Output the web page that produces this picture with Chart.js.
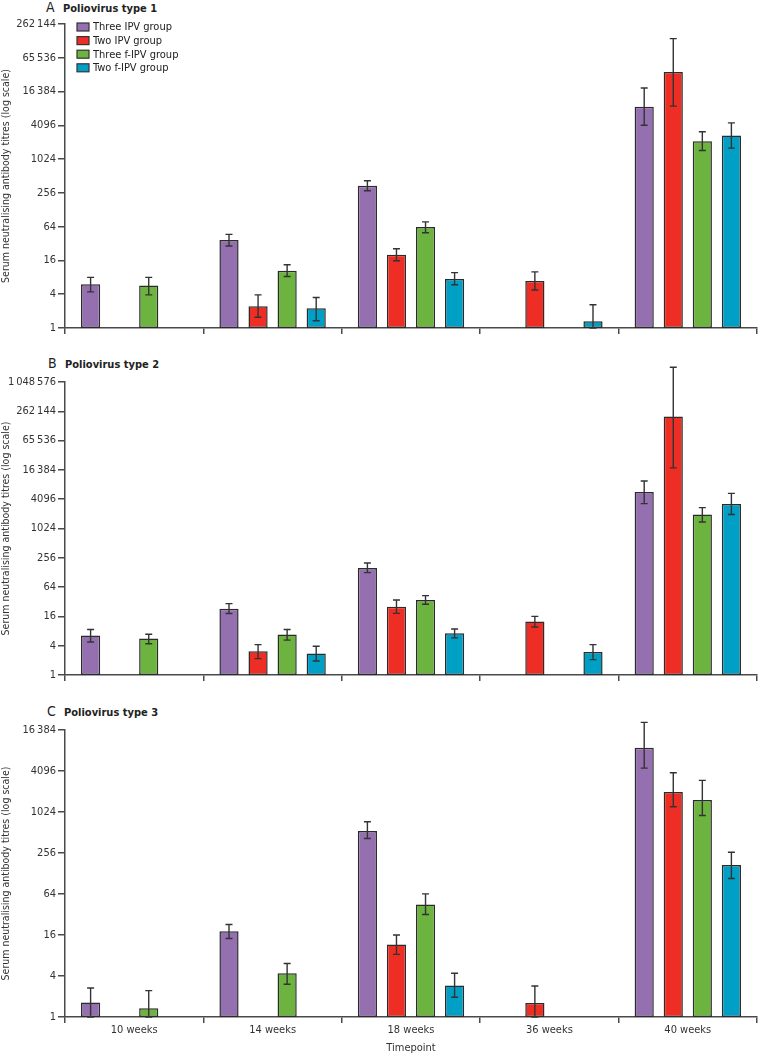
<!DOCTYPE html>
<html>
<head>
<meta charset="utf-8">
<script src="https://cdn.jsdelivr.net/npm/chart.js@4.4.1/dist/chart.umd.min.js"></script>
<style>
  body { margin: 0; background: #fff; width: 758px; height: 1055px; position: relative; overflow: hidden;
         font-family: 'Liberation Sans Narrow', 'DejaVu Sans Condensed', 'Liberation Sans', sans-serif; }
  canvas { position: absolute; left: 0; }
  .panel-title { position: absolute; color: #222; font-size: 11px; font-weight: bold; white-space: nowrap; }
  .panel-title span { font-size: 14px; font-weight: normal; display: inline-block; width: 17px; }
</style>
</head>
<body>
<div class="panel-title" style="left:46px; top:-1px;"><span>A</span>Poliovirus type 1</div>
<div class="panel-title" style="left:48px; top:355px;"><span>B</span>Poliovirus type 2</div>
<div class="panel-title" style="left:47px; top:703px;"><span>C</span>Poliovirus type 3</div>
<canvas id="chartA" width="758" height="345" style="top:0px"></canvas>
<canvas id="chartB" width="758" height="345" style="top:345px"></canvas>
<canvas id="chartC" width="758" height="365" style="top:690px"></canvas>
<script>
// categories and groups
const timepoints = ['10 weeks', '14 weeks', '18 weeks', '36 weeks', '40 weeks'];
const groups = ['Three IPV group', 'Two IPV group', 'Three f-IPV group', 'Two f-IPV group'];
const groupColors = ['#9570b0', '#ee2e24', '#6db33f', '#00a0c6'];

// y tick labels (powers of 4)
const ticksType1 = [1, 4, 16, 64, 256, 1024, 4096, 16384, 65536, 262144];
const ticksType2 = [1, 4, 16, 64, 256, 1024, 4096, 16384, 65536, 262144, 1048576];
const ticksType3 = [1, 4, 16, 64, 256, 1024, 4096, 16384];

// Poliovirus type 1: geometric mean titres and 95% CI
const t1Three     = [6.0, 37, 342, null, 8770];
const t1ThreeLow  = [4.4, 29, 279, null, 4100];
const t1ThreeHigh = [8.0, 46.6, 421, null, 19000];
const t1Two       = [null, 2.43, 20.2, 6.9, 36400];
const t1TwoLow    = [null, 1.55, 15.8, 4.75, 9000];
const t1TwoHigh   = [null, 3.9, 25.8, 10, 144000];
const t1ThreeF     = [5.7, 10.5, 63, null, 2140];
const t1ThreeFLow  = [3.9, 8.3, 50, null, 1460];
const t1ThreeFHigh = [8.0, 13.4, 78, null, 3140];
const t1TwoF     = [null, 2.25, 7.5, 1.32, 2700];
const t1TwoFLow  = [null, 1.35, 5.9, 1.0, 1610];
const t1TwoFHigh = [null, 3.5, 9.7, 2.6, 4540];

// Poliovirus type 2
const t2Three     = [6.45, 23.1, 158, null, 5750];
const t2ThreeLow  = [4.76, 18.3, 127, null, 3330];
const t2ThreeHigh = [8.6, 29.3, 200, null, 9700];
const t2Two       = [null, 3.07, 25.4, 12.5, 204000];
const t2TwoLow    = [null, 2.17, 18.5, 9.7, 18000];
const t2TwoHigh   = [null, 4.2, 34.7, 16, 2100000];
const t2ThreeF     = [5.6, 6.8, 34.7, null, 1980];
const t2ThreeFLow  = [4.4, 5.2, 28.4, null, 1390];
const t2ThreeFHigh = [6.9, 8.6, 42.8, null, 2750];
const t2TwoF     = [null, 2.75, 7.2, 2.97, 3260];
const t2TwoFLow  = [null, 1.94, 5.8, 2.07, 1980];
const t2TwoFHigh = [null, 3.9, 8.8, 4.2, 5400];

// Poliovirus type 3
const t3Three     = [1.63, 18.2, 537, null, 9000];
const t3ThreeLow  = [1.0, 14.2, 419, null, 4520];
const t3ThreeHigh = [2.67, 22.8, 735, null, 21200];
const t3Two       = [null, null, 11.6, 1.6, 2010];
const t3TwoLow    = [null, null, 8.3, 1.0, 1220];
const t3TwoHigh   = [null, null, 16, 2.85, 3860];
const t3ThreeF     = [1.34, 4.39, 45, null, 1530];
const t3ThreeFLow  = [1.0, 3.03, 32, null, 910];
const t3ThreeFHigh = [2.44, 6.1, 64.3, null, 2980];
const t3TwoF     = [null, null, 2.9, null, 170];
const t3TwoFLow  = [null, null, 1.95, null, 108];
const t3TwoFHigh = [null, null, 4.4, null, 263];

const FONT = "'Liberation Sans Narrow', 'DejaVu Sans Condensed', 'Liberation Sans', sans-serif";
Chart.defaults.font.family = FONT;
Chart.defaults.color = '#333';

const AXIS = '#4a4a4a';

function fmtTick(v) {
    const s = String(v);
    return v >= 10000 ? s.replace(/\B(?=(\d{3})+(?!\d))/g, '\u2009') : s;
}

// draws the 95% CI whiskers on top of each bar
const errorBars = {
    id: 'errorBars',
    afterDatasetsDraw(chart) {
        const ctx = chart.ctx;
        const yScale = chart.scales.y;
        chart.data.datasets.forEach((ds, i) => {
            const meta = chart.getDatasetMeta(i);
            meta.data.forEach((bar, j) => {
                const lo = ds.errLow[j], hi = ds.errHigh[j];
                if (ds.data[j] == null || lo == null || hi == null) return;
                const x = bar.x;
                const y1 = yScale.getPixelForValue(hi);
                const y2 = yScale.getPixelForValue(lo);
                ctx.save();
                ctx.strokeStyle = '#333';
                ctx.lineWidth = 1.4;
                ctx.beginPath();
                ctx.moveTo(x, y1); ctx.lineTo(x, y2);
                ctx.moveTo(x - 3.5, y1); ctx.lineTo(x + 3.5, y1);
                ctx.moveTo(x - 3.5, y2); ctx.lineTo(x + 3.5, y2);
                ctx.stroke();
                ctx.restore();
            });
        });
    }
};

// legend drawn in the top-left of the plot (panel A only)
const boxLegend = {
    id: 'boxLegend',
    afterDraw(chart, args, opts) {
        if (!opts.show) return;
        const ctx = chart.ctx;
        const x0 = chart.chartArea.left + 12;
        ctx.save();
        ctx.font = '11px ' + FONT;
        ctx.textBaseline = 'middle';
        chart.data.datasets.forEach((ds, i) => {
            const yc = 27 + i * 13.6;
            ctx.fillStyle = ds.backgroundColor;
            ctx.fillRect(x0, yc - 4, 12, 8);
            ctx.strokeStyle = '#333';
            ctx.lineWidth = 1.2;
            ctx.strokeRect(x0, yc - 4, 12, 8);
            ctx.fillStyle = '#222';
            ctx.fillText(ds.label, x0 + 16, yc + 0.5);
        });
        ctx.restore();
    }
};

function makePanel(id, means, lows, highs, yTicks, padTop, xHeight, showX, showLegend) {
    const datasets = groups.map((g, i) => ({
        label: g,
        data: means[i],
        errLow: lows[i],
        errHigh: highs[i],
        backgroundColor: groupColors[i],
        borderColor: '#2b2b2b',
        borderWidth: 1.5,
        borderSkipped: false,
        categoryPercentage: 0.84,
        barPercentage: 0.66
    }));

    return new Chart(document.getElementById(id), {
        type: 'bar',
        data: { labels: timepoints, datasets: datasets },
        plugins: [errorBars, boxLegend],
        options: {
            responsive: false,
            animation: false,
            layout: { padding: { top: padTop, right: 1, left: 0, bottom: 0 } },
            plugins: {
                legend: { display: false },
                tooltip: { enabled: false },
                boxLegend: { show: showLegend }
            },
            scales: {
                x: {
                    grid: { offset: true, drawOnChartArea: false, tickLength: 6, color: AXIS, lineWidth: 1.5 },
                    border: { color: AXIS, width: 1.5 },
                    ticks: { display: showX, padding: 1, font: { size: 11 }, color: '#333' },
                    title: { display: showX, text: 'Timepoint', padding: 0, font: { size: 11 }, color: '#333' },
                    afterFit: (s) => { s.height = xHeight; }
                },
                y: {
                    type: 'logarithmic',
                    min: yTicks[0],
                    max: yTicks[yTicks.length - 1],
                    grid: { drawOnChartArea: false, tickLength: 7, color: AXIS, lineWidth: 1.5 },
                    border: { color: AXIS, width: 1.5 },
                    ticks: { padding: 2, autoSkip: false, font: { size: 11 }, color: '#333', callback: (v) => fmtTick(v) },
                    title: { display: true, text: 'Serum neutralising antibody titres (log scale)', padding: 0, font: { size: 10.5 }, color: '#333' },
                    afterBuildTicks: (s) => { s.ticks = yTicks.map(v => ({ value: v })); },
                    afterFit: (s) => { s.width = 65; }
                }
            }
        }
    });
}

makePanel('chartA',
    [t1Three, t1Two, t1ThreeF, t1TwoF],
    [t1ThreeLow, t1TwoLow, t1ThreeFLow, t1TwoFLow],
    [t1ThreeHigh, t1TwoHigh, t1ThreeFHigh, t1TwoFHigh],
    ticksType1, 24, 17, false, true);

makePanel('chartB',
    [t2Three, t2Two, t2ThreeF, t2TwoF],
    [t2ThreeLow, t2TwoLow, t2ThreeFLow, t2TwoFLow],
    [t2ThreeHigh, t2TwoHigh, t2ThreeFHigh, t2TwoFHigh],
    ticksType2, 37, 15, false, false);

makePanel('chartC',
    [t3Three, t3Two, t3ThreeF, t3TwoF],
    [t3ThreeLow, t3TwoLow, t3ThreeFLow, t3TwoFLow],
    [t3ThreeHigh, t3TwoHigh, t3ThreeFHigh, t3TwoFHigh],
    ticksType3, 40, 38, true, false);
</script>
</body>
</html>
